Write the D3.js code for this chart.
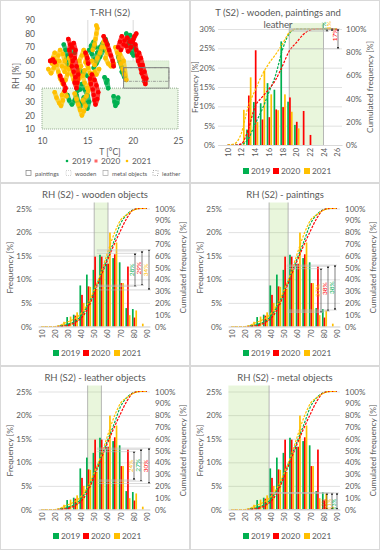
<!DOCTYPE html>
<html>
<head>
<meta charset="utf-8">
<script src="https://cdn.jsdelivr.net/npm/d3@7"></script>
<style>
body { margin: 0; background: #fff; }
svg { font-family: Lato, "Open Sans", sans-serif; }
</style>
</head>
<body>
<script>
// years and series colours
var years = ["2019", "2020", "2021"];
var colors = ["#00B050", "#FF0000", "#FFC000"];

// T-RH scatter, [T, RH], grouped in runs of consecutive readings
var sc2019 = [
  [[12.4,72],[12.6,68],[12.8,64],[12.6,60],[12.9,57],[13.3,70],[13.6,66]],
  [[12.8,35],[13.0,31],[13.3,28],[13.6,31],[13.8,35],[14.0,30],[14.2,26],[14.4,29],[14.6,33],[14.8,29],[15.0,25],[15.2,30],[15.0,35],[14.7,39],[14.4,43],[14.2,39],[13.9,38]],
  [[15.2,68],[15.5,65],[15.8,61],[16.1,66],[16.4,70],[16.7,73],[17.0,76],[17.2,72],[16.8,68],[16.4,63],[16.0,58],[15.7,55]],
  [[15.4,71],[15.7,74],[15.9,70]],
  [[16.9,48],[17.1,44],[17.3,40],[17.2,46]],
  [[17.9,34],[18.0,30],[18.1,27],[18.3,29],[18.4,33]],
  [[18.4,63],[18.6,59],[18.8,55],[19.0,51],[19.1,48],[18.8,52]],
  [[19.3,80],[19.5,77],[19.6,73],[19.8,70],[19.9,66],[20.1,64],[20.2,69],[20.0,74],[19.7,79]],
  [[14.0,55],[14.4,52],[15.0,49]]
];
var sc2020 = [
  [[10.9,60],[11.2,61],[11.4,59]],
  [[12.9,76],[13.1,72],[13.0,68],[13.2,64],[13.4,60],[13.3,56],[13.5,52],[13.7,48],[13.6,44],[13.8,40],[13.9,44],[14.0,50],[13.8,56],[13.6,62],[13.7,68],[13.5,73],[13.3,70]],
  [[12.0,49],[12.2,46],[12.4,43],[12.6,40],[12.5,38]],
  [[15.3,47],[15.4,43],[15.6,39],[15.7,35],[15.8,31],[15.9,28],[16.1,32],[16.2,37],[16.0,42],[15.8,46],[15.5,50]],
  [[16.8,78],[17.0,75],[17.2,72],[17.4,68],[17.6,64],[17.8,60],[17.9,56]],
  [[18.4,70],[18.6,74],[18.8,78],[19.1,75],[19.3,71],[19.5,67],[19.8,70],[20.0,74],[20.2,78],[20.4,80],[20.1,76],[19.7,74],[19.4,77],[19.0,72],[18.7,68]],
  [[20.3,72],[20.4,68],[20.5,64],[20.6,60],[20.8,57],[20.9,54],[21.0,51],[21.2,48],[21.3,45],[21.4,43],[21.5,47],[21.3,52],[21.1,57],[20.9,62],[20.7,66]],
  [[14.8,66],[15.0,62],[15.1,58]]
];
var sc2021 = [
  [[10.7,54],[11.0,51],[11.3,55],[11.5,60],[11.8,64],[12.0,68],[12.3,65],[12.5,60],[12.6,55],[12.8,50],[12.6,46],[12.3,43],[12.0,47],[11.8,52],[11.6,57],[11.9,60],[12.2,56],[12.5,52]],
  [[11.2,62],[11.4,66],[11.1,58]],
  [[11.4,37],[11.6,33],[11.9,29],[12.1,27],[12.3,31],[12.2,35],[12.5,38],[12.7,34]],
  [[13.0,62],[13.2,58],[13.0,54],[13.3,50],[13.5,46],[13.8,43],[14.1,47],[14.0,52],[14.3,56],[14.1,60],[14.4,64],[14.6,68],[14.9,64],[14.8,59],[15.1,55],[15.3,51],[15.5,47],[15.3,43],[15.0,40],[14.7,44],[14.5,49],[14.7,53]],
  [[13.6,36],[13.8,32],[14.0,28],[14.2,24],[14.4,20],[14.6,23],[14.8,27],[14.5,31],[14.9,34],[15.1,38]],
  [[15.6,68],[15.8,72],[15.9,76],[16.0,80],[16.1,84],[16.0,86]],
  [[15.5,60],[15.8,57],[16.1,62],[16.4,66],[16.6,70],[16.8,74],[17.0,70],[17.2,66],[17.0,62],[17.3,58],[17.6,56],[17.9,58]],
  [[18.1,70],[18.3,66],[18.5,62],[18.7,58],[18.9,54],[19.1,50],[19.3,46],[19.0,60],[18.6,65]],
  [[16.0,50],[16.3,54],[15.8,52]]
];
var scTicksX = [10, 15, 20, 25];
var scTicksY = [10, 20, 30, 40, 50, 60, 70, 80, 90];
// recommended ranges drawn in the scatter: [Tmin, Tmax, RHmin, RHmax]
var boxMetal = [10, 25, 10, 40];
var boxWooden = [19, 24, 40, 60];
var boxPaintings = [19, 24, 40, 55];
var boxLeather = [19, 24, 45, 55];

// T histogram (%), bins in °C
var tBins = [10,11,12,13,14,15,16,17,18,19,20,21,22,23,24,25,26];
var tFreq2019 = [0,0,0,4,11.1,10.8,16,14.3,26.8,11.2,5.2,0,0,0,0,0,0];
var tFreq2020 = [0,0,0,12.8,24.5,6.6,7.2,9.2,9.8,12.3,6,8.8,2.6,0,0,0,0];
var tFreq2021 = [0,0,9.1,17.5,6,19.3,13.1,9,13.1,8.6,4.3,0,0,0,0,0,0];
var tCum2019 = [0,0,0.5,5,18,30,45,60,82,96,100,100,100,100,100,100,100];
var tCum2020 = [0,0,1,13,33,41,48,56,68,81,88,95,99,100,100,100,100];
var tCum2021 = [0,1,10,33,47,60,70,78,87,97,100,100,100,100,100,100,100];
var tTicks = [10,12,14,16,18,20,22,24,26];
var tFreqTicks = [0,5,10,15,20,25,30];
var tCumTicks = [0,20,40,60,80,100];
var tBand = [19, 24];
var annT = [[0,100,98,"2%"],[2,100,99,"1%"],[1,100,83,"17%"]];

// RH histogram (%), bins in %RH (same for all four object groups)
var rhBins = [10,15,20,25,30,35,40,45,50,55,60,65,70,75,80,85,90];
var rhFreq2019 = [0,0,0,0.3,2,2.5,8.7,11,12,15.2,13.3,14.5,13.6,3.9,3.7,0,0];
var rhFreq2020 = [0,0,0,0.2,0.5,2.3,6.7,8.5,14.8,14.8,13.3,15.3,9.2,12.7,1.9,0,0];
var rhFreq2021 = [0,0,0,1,2.1,3,5,8.4,8,12,19.9,17.8,9.2,2.4,3.4,0.6,0];
var rhCum2019 = [0,0,0,0.5,2,4,9,18,30,44,58,72,87,95,99,100,100];
var rhCum2020 = [0,0,0,0.2,1,3,7,15,28,42,56,69,81,92,99,100,100];
var rhCum2021 = [0,0,0,1.5,4,6.5,11,19,31,45,62,78,90,95,98.5,100,100];
var rhTicks = [10,20,30,40,50,60,70,80,90];
var rhFreqTicks = [0,5,10,15,20,25];
var rhCumTicks = [0,10,20,30,40,50,60,70,80,90,100];

var rhTitles = ["RH (S2) - wooden objects", "RH (S2) - paintings", "RH (S2) - leather objects", "RH (S2) - metal objects"];
var rhBands = [[50, 60.5], [38.5, 53], [45, 55.5], [0, 38.5]];
// [year index, from cum %, to cum %, label]
var annWooden = [[0,62,34,"28%"],[1,64,35,"29%"],[2,65,31,"34%"]];
var annPaintings = [[2,49,12,"37%"],[1,51,13,"38%"],[0,52,14,"38%"]];
var annLeather = [[2,49,25,"24%"],[0,51,24,"27%"],[1,52,22,"30%"]];
var annMetal = [[1,14,0,"10%"],[2,14,0,"11%"],[0,14,0,"13%"]];

var txt = "#595959";

var svg = d3.select("body").append("svg").attr("width", 381).attr("height", 550);

svg.append("defs").append("marker")
    .attr("id", "ah")
    .attr("viewBox", "0 0 6 6")
    .attr("refX", 5).attr("refY", 3)
    .attr("markerWidth", 4).attr("markerHeight", 4)
    .attr("orient", "auto-start-reverse")
    .append("path").attr("d", "M0,0L6,3L0,6Z").attr("fill", "#000");

// panel frames
var origins = [[0,0],[190,0],[0,183],[190,183],[0,366],[190,366]];
origins.forEach(function(o){
    svg.append("rect")
        .attr("x", o[0] + 0.5).attr("y", o[1] + 0.5)
        .attr("width", 189).attr("height", o[1] == 366 ? 183 : 182)
        .attr("fill", "none").attr("stroke", "#D9D9D9");
});

function styleAxis(a, size){
    a.attr("font-family", null).attr("font-size", size);
    a.selectAll("text").attr("fill", txt);
}

// ---------- panel 1: T-RH scatter ----------
(function(){
    var g = svg.append("g");
    var x = d3.scaleLinear().domain([10, 25]).range([42, 178]);
    var y = d3.scaleLinear().domain([10, 90]).range([129, 20]);

    var grid = g.append("g").attr("transform", "translate(0,129)")
        .call(d3.axisBottom(x).tickValues([15, 20]).tickSize(-109).tickFormat(""));
    grid.select(".domain").remove();
    grid.selectAll("line").attr("stroke", "#D9D9D9");

    function box(b){
        return g.append("rect")
            .attr("x", x(b[0])).attr("y", y(b[3]))
            .attr("width", x(b[1]) - x(b[0])).attr("height", y(b[2]) - y(b[3]));
    }
    box(boxMetal).attr("fill", "#EAF6E4").attr("stroke", "#8FA88A").attr("stroke-dasharray", "1,1");
    box(boxWooden).attr("fill", "#E2F2DA").attr("stroke", "#C9DDC0").attr("stroke-dasharray", "1,1");

    var runLine = d3.line().x(function(d){ return x(d[0]); }).y(function(d){ return y(d[1]); });
    var series = [sc2019, sc2021, sc2020];
    var sCol = [colors[0], colors[2], colors[1]];
    series.forEach(function(runs, k){
        var sg = g.append("g");
        runs.forEach(function(pts){
            sg.append("path").datum(pts).attr("d", runLine)
                .attr("fill", "none").attr("stroke", sCol[k]).attr("stroke-width", 4.5)
                .attr("stroke-linejoin", "round").attr("stroke-linecap", "round")
                .attr("stroke-opacity", 0.75);
            sg.append("g").selectAll("circle").data(pts).enter().append("circle")
                .attr("cx", function(d){ return x(d[0]); })
                .attr("cy", function(d){ return y(d[1]); })
                .attr("r", 2.3)
                .attr("fill", sCol[k]);
        });
    });

    box(boxPaintings).attr("fill", "none").attr("stroke", "#7F7F7F").attr("stroke-width", 0.9);
    box(boxLeather).attr("fill", "none").attr("stroke", "#7F7F7F").attr("stroke-width", 0.7).attr("stroke-dasharray", "3,1,1,1");

    var ax = g.append("g").attr("transform", "translate(0,129)")
        .call(d3.axisBottom(x).tickValues(scTicksX).tickSize(0).tickPadding(9));
    ax.select(".domain").remove();
    styleAxis(ax, 8.5);

    var ay = g.append("g").attr("transform", "translate(42,0)")
        .call(d3.axisLeft(y).tickValues(scTicksY).tickSize(0).tickPadding(7));
    ay.select(".domain").remove();
    styleAxis(ay, 8.5);

    g.append("text").attr("x", 110).attr("y", 16).attr("text-anchor", "middle")
        .attr("font-size", 9.5).attr("fill", txt).text("T-RH (S2)");
    g.append("text").attr("x", 110).attr("y", 155).attr("text-anchor", "middle")
        .attr("font-size", 8.5).attr("fill", txt).text("T [°C]");
    g.append("text").attr("transform", "translate(19,76) rotate(-90)").attr("text-anchor", "middle")
        .attr("font-size", 8.5).attr("fill", txt).text("RH [%]");

    // legend row 1
    var lx = [67, 96, 127];
    years.forEach(function(yr, k){
        if (k == 1) {
            g.append("rect").attr("x", lx[k] - 1.5).attr("y", 159.5).attr("width", 3).attr("height", 3)
                .attr("fill", colors[k]).attr("fill-opacity", 0.6);
        } else {
            g.append("circle").attr("cx", lx[k]).attr("cy", 161).attr("r", 1.3).attr("fill", colors[k]);
        }
        g.append("text").attr("x", lx[k] + 5).attr("y", 164).attr("font-size", 8.3).attr("fill", txt).text(yr);
    });
    // legend row 2
    var items = [["paintings", 26, "#7F7F7F", null], ["wooden", 66, "#BFBFBF", "1,1"],
                 ["metal objects", 103, "#A6A6A6", null], ["leather", 153, "#7F7F7F", "1,1.5"]];
    items.forEach(function(it){
        g.append("rect").attr("x", it[1]).attr("y", 170.5).attr("width", 5).attr("height", 5)
            .attr("fill", "none").attr("stroke", it[2]).attr("stroke-width", 0.7)
            .attr("stroke-dasharray", it[3]);
        g.append("text").attr("x", it[1] + 9).attr("y", 175.5).attr("font-size", 6).attr("fill", txt).text(it[0]);
    });
})();

// ---------- histogram panels ----------
function histPanel(o){
    var g = svg.append("g").attr("transform", "translate(" + o.ox + "," + o.oy + ")");
    var x = d3.scaleLinear().domain(o.xDomain).range([o.left, o.right]);
    var yL = d3.scaleLinear().domain([0, o.fMax]).range([o.bottom, o.top]);
    var yR = d3.scaleLinear().domain([0, 100]).range([o.bottom, o.top]);
    var w = o.right - o.left;

    var grid = g.append("g").attr("transform", "translate(" + o.left + ",0)")
        .call(d3.axisLeft(yL).tickValues(o.fTicks).tickSize(-w).tickFormat(""));
    grid.select(".domain").remove();
    grid.selectAll("line").attr("stroke", "#D9D9D9").attr("stroke-width", 0.8);

    // recommended range
    var bx0 = Math.max(x(o.band[0]), o.left), bx1 = x(o.band[1]);
    g.append("rect").attr("x", bx0).attr("y", o.top - 6)
        .attr("width", bx1 - bx0).attr("height", o.bottom - o.top + 6)
        .attr("fill", "#92D050").attr("fill-opacity", 0.2);
    [bx0, bx1].forEach(function(v){
        if (v > o.left + 1) {
            g.append("line").attr("x1", v).attr("x2", v).attr("y1", o.top - 6).attr("y2", o.bottom)
                .attr("stroke", "#A6A6A6").attr("stroke-width", 0.8);
        }
    });

    // bars
    o.freqs.forEach(function(arr, k){
        var d = o.bins.map(function(b, i){ return [b, arr[i]]; }).filter(function(p){ return p[1] > 0; });
        g.append("g").selectAll("rect").data(d).enter().append("rect")
            .attr("x", function(p){ return x(p[0] + o.shift + (k - 1) * o.step) - o.bw / 2; })
            .attr("y", function(p){ return yL(p[1]); })
            .attr("width", o.bw)
            .attr("height", function(p){ return o.bottom - yL(p[1]); })
            .attr("fill", colors[k]);
    });

    // cumulative curves
    var line = d3.line()
        .x(function(p){ return x(p[0]); })
        .y(function(p){ return yR(p[1]); })
        .curve(d3.curveMonotoneX);
    o.cums.forEach(function(arr, k){
        g.append("path")
            .datum(o.bins.map(function(b, i){ return [b, arr[i]]; }))
            .attr("d", line).attr("fill", "none")
            .attr("stroke", colors[k]).attr("stroke-width", 1.2)
            .attr("stroke-dasharray", "2.5,1.3");
    });

    // annotations
    o.ann.forEach(function(a, i){
        var axp = o.right - o.annOff[i];
        [a[1], a[2]].forEach(function(v){
            g.append("line").attr("x1", x(o.lineStart)).attr("x2", axp + 2)
                .attr("y1", yR(v)).attr("y2", yR(v))
                .attr("stroke", "#BFBFBF").attr("stroke-width", 0.6);
        });
        g.append("line").attr("x1", axp).attr("x2", axp)
            .attr("y1", yR(a[1])).attr("y2", yR(a[2]))
            .attr("stroke", "#000").attr("stroke-width", 0.5)
            .attr("marker-start", "url(#ah)").attr("marker-end", "url(#ah)");
        var my = (yR(a[1]) + yR(a[2])) / 2 + (o.annDy || 0);
        g.append("text").attr("transform", "translate(" + (axp - 0.8) + "," + my + ") rotate(-90)")
            .attr("text-anchor", "middle").attr("font-size", o.annSize)
            .attr("fill", colors[a[0]]).text(a[3]);
    });

    // axes
    var ax = g.append("g").attr("transform", "translate(0," + o.bottom + ")")
        .call(d3.axisBottom(x).tickValues(o.xTicks).tickSize(0).tickFormat(d3.format("d")));
    ax.select(".domain").attr("stroke", "#D9D9D9");
    styleAxis(ax, 7.5);
    ax.selectAll("text").attr("transform", "rotate(-90)").attr("text-anchor", "end")
        .attr("x", -3).attr("y", 0).attr("dy", "0.35em");

    var al = g.append("g").attr("transform", "translate(" + o.left + ",0)")
        .call(d3.axisLeft(yL).tickValues(o.fTicks).tickSize(0).tickPadding(o.left - o.lLab)
            .tickFormat(function(d){ return d + "%"; }));
    al.select(".domain").remove();
    styleAxis(al, 8);

    var ar = g.append("g").attr("transform", "translate(" + o.right + ",0)")
        .call(d3.axisRight(yR).tickValues(o.cTicks).tickSize(0).tickPadding(o.rLab - o.right)
            .tickFormat(function(d){ return d + "%"; }));
    ar.select(".domain").remove();
    styleAxis(ar, 8);

    var cy = (o.top + o.bottom) / 2;
    g.append("text").attr("transform", "translate(" + (o.lTitle + 3) + "," + cy + ") rotate(-90)")
        .attr("text-anchor", "middle").attr("font-size", 8.3).attr("fill", txt).text("Frequency [%]");
    g.append("text").attr("transform", "translate(" + (o.rTitle + 3) + "," + cy + ") rotate(-90)")
        .attr("text-anchor", "middle").attr("font-size", 8.3).attr("fill", txt).text("Cumulated frequency [%]");

    o.title.forEach(function(t, i){
        g.append("text").attr("x", o.titleX).attr("y", o.titleY + i * 12)
            .attr("text-anchor", "middle").attr("font-size", 9.5).attr("fill", txt).text(t);
    });

    // legend
    var lx = [53, 83, 114];
    years.forEach(function(yr, k){
        g.append("rect").attr("x", lx[k]).attr("y", o.legY - 6).attr("width", 6).attr("height", 6).attr("fill", colors[k]);
        g.append("text").attr("x", lx[k] + 8).attr("y", o.legY).attr("font-size", 8.3).attr("fill", txt).text(yr);
    });
}

histPanel({
    ox: 190, oy: 0, title: ["T (S2) - wooden, paintings and", "leather"], titleX: 88, titleY: 15.5,
    xDomain: [8.6, 26.7], left: 28, right: 152, top: 29, bottom: 145,
    fMax: 30, fTicks: tFreqTicks, cTicks: tCumTicks, xTicks: tTicks,
    bins: tBins, freqs: [tFreq2019, tFreq2020, tFreq2021], cums: [tCum2019, tCum2020, tCum2021],
    shift: 0.1, step: 0.27, bw: 1.7, band: tBand,
    ann: annT, annOff: [15, 10, 4], lineStart: 19, annSize: 6.5, annDy: -4,
    lLab: 25, rLab: 156, lTitle: 5, rTitle: 180, legY: 174
});

var rhAnn = [annWooden, annPaintings, annLeather, annMetal];
var rhOff = [[15, 8, 1], [19, 12, 5], [16, 9, 1], [13, 8, 3]];
var rhLineStart = [52, 52, 52, 39];
rhTitles.forEach(function(t, i){
    var org = origins[i + 2];
    histPanel({
        ox: org[0], oy: org[1], title: [t], titleX: 95, titleY: 14.5,
        xDomain: [7.5, 92.5], left: 38.4, right: 150, top: 25.5, bottom: 143.5,
        fMax: 25, fTicks: rhFreqTicks, cTicks: rhCumTicks, xTicks: rhTicks,
        bins: rhBins, freqs: [rhFreq2019, rhFreq2020, rhFreq2021], cums: [rhCum2019, rhCum2020, rhCum2021],
        shift: 0.7, step: 1.3, bw: 1.7, band: rhBands[i],
        ann: rhAnn[i], annOff: rhOff[i], lineStart: rhLineStart[i], annSize: i == 3 ? 5.5 : 6.5, annDy: i == 3 ? 3 : 0,
        lLab: 32, rLab: 155, lTitle: 10, rTitle: 183, legY: 173
    });
});
</script>
</body>
</html>
